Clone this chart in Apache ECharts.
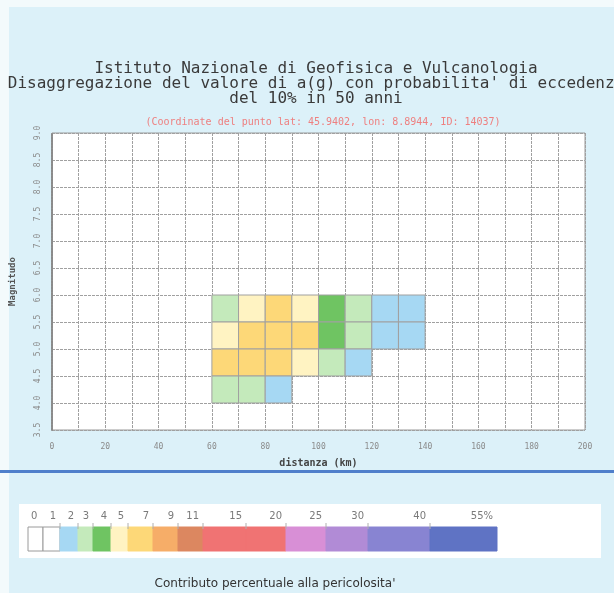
<!DOCTYPE html>
<html>
<head>
<meta charset="utf-8">
<script src="https://cdn.jsdelivr.net/npm/echarts@6/dist/echarts.min.js"></script>
<style>
  html, body { margin: 0; padding: 0; background: #f3fafc; }
  #chart { width: 614px; height: 593px; }
</style>
</head>
<body>
<div id="chart"></div>
<script>
// Disaggregation cells: lower edge of the distance bin (km), lower edge of the
// magnitude bin and percentage contribution to the hazard.
const cellDistance = [
  60, 70, 80, 90, 100, 110, 120, 130,
  60, 70, 80, 90, 100, 110, 120, 130,
  60, 70, 80, 90, 100, 110,
  60, 70, 80
];
const cellMagnitude = [
  5.5, 5.5, 5.5, 5.5, 5.5, 5.5, 5.5, 5.5,
  5.0, 5.0, 5.0, 5.0, 5.0, 5.0, 5.0, 5.0,
  4.5, 4.5, 4.5, 4.5, 4.5, 4.5,
  4.0, 4.0, 4.0
];
const cellContribution = [
  2.6, 4.6, 5.6, 4.4, 3.5, 2.4, 1.6, 1.5,
  4.3, 5.8, 6.0, 5.4, 3.6, 2.3, 1.7, 1.4,
  5.5, 5.7, 5.3, 4.2, 2.2, 1.5,
  2.3, 2.2, 1.4
];

// Contribution classes (percent) and their colours
const classBreaks = [0, 1, 2, 3, 4, 5, 7, 9, 11, 15, 20, 25, 30, 40, 55];
const classColors = [
  '#ffffff', '#a6d8f3', '#c4eabb', '#6fc462', '#fff3c2', '#fdd878', '#f6ad68',
  '#dc8760', '#f07373', '#f07373', '#d88fd6', '#b18bd6', '#8884d2', '#5f73c4'
];
const legendLabels = ['0', '1', '2', '3', '4', '5', '7', '9', '11', '15', '20', '25', '30', '40', '55%'];

const titleLines = [
  'Istituto Nazionale di Geofisica e Vulcanologia',
  "Disaggregazione del valore di a(g) con probabilita' di eccedenza",
  'del 10% in 50 anni'
];
const subtitleText = '(Coordinate del punto lat: 45.9402, lon: 8.8944, ID: 14037)';

const cells = cellDistance.map((d, i) => [d, cellMagnitude[i], cellContribution[i]]);

const pieces = classColors.map((c, i) => ({
  gte: classBreaks[i],
  lt: classBreaks[i + 1],
  color: c
}));

// colour bar layout: an extra blank box in front of the classes
const barLeft = 28, barTop = 527, barHeight = 24;
const boxWidths = [15, 17, 18, 15, 18, 17, 25, 25, 25, 43, 40, 40, 42, 62, 67];
const boxFill = ['#ffffff'].concat(classColors);
const legendGraphics = [];
legendGraphics.push({
  type: 'rect', left: 19, top: 504, z: 0,
  shape: { width: 582, height: 54 },
  style: { fill: '#ffffff' }
});
let xCursor = barLeft;
const boxEdges = [barLeft];
boxWidths.forEach((w, i) => {
  legendGraphics.push({
    type: 'rect', z: 2,
    shape: { x: xCursor, y: barTop, width: w, height: barHeight },
    style: { fill: boxFill[i], stroke: i < 2 ? '#9a9a9a' : boxFill[i], lineWidth: 1 }
  });
  xCursor += w;
  boxEdges.push(xCursor);
});
legendLabels.forEach((t, i) => {
  const x = i === 0 ? boxEdges[0] + 3 : boxEdges[i + 1] - 4;
  legendGraphics.push({
    type: 'text', z: 3,
    style: {
      x: x, y: 516, text: t,
      fill: '#7a7a7a', font: '10px "DejaVu Sans"',
      align: i === 0 ? 'left' : 'right', verticalAlign: 'middle'
    }
  });
  if (i > 0 && i < legendLabels.length - 1) {
    legendGraphics.push({
      type: 'line', z: 3,
      shape: { x1: boxEdges[i + 1], y1: barTop - 4, x2: boxEdges[i + 1], y2: barTop + 2 },
      style: { stroke: '#b0b0b0', lineWidth: 1 }
    });
  }
});

const chart = echarts.init(document.getElementById('chart'), null, { renderer: 'canvas' });

const mono = '"DejaVu Sans Mono", monospace';

chart.setOption({
  backgroundColor: 'transparent',
  animation: false,
  grid: { left: 50, top: 133, right: 29, bottom: 163, show: true, backgroundColor: '#ffffff', borderColor: '#9a9a9a', borderWidth: 1 },
  xAxis: {
    type: 'value', min: 0, max: 200, interval: 20,
    name: 'distanza (km)', nameLocation: 'middle', nameGap: 28,
    nameTextStyle: { fontFamily: mono, fontSize: 10, fontWeight: 'bold', color: '#444' },
    axisLine: { show: false },
    axisTick: { show: false },
    axisLabel: { fontFamily: mono, fontSize: 8, color: '#8a8a8a', margin: 13 },
    splitLine: { show: true, lineStyle: { color: '#a0a0a0', type: [3, 1], width: 1 } },
    minorTick: { show: false, splitNumber: 2 },
    minorSplitLine: { show: true, lineStyle: { color: '#a0a0a0', type: [3, 1], width: 1 } }
  },
  yAxis: {
    type: 'value', min: 3.5, max: 9.0, interval: 0.5,
    name: 'Magnitudo', nameLocation: 'middle', nameGap: 35, nameRotate: 90,
    nameTextStyle: { fontFamily: mono, fontSize: 9, fontWeight: 'bold', color: '#555' },
    axisLine: { show: true, lineStyle: { color: '#8a8a8a', type: [2, 1], width: 2 } },
    axisTick: { show: false },
    axisLabel: { fontFamily: mono, fontSize: 8, color: '#8a8a8a', rotate: 90, margin: 10, formatter: v => v.toFixed(1) },
    splitLine: { show: true, lineStyle: { color: '#a0a0a0', type: [3, 1], width: 1 } }
  },
  visualMap: {
    type: 'piecewise', show: false, dimension: 2, seriesIndex: 0,
    pieces: pieces
  },
  title: [
    {
      text: titleLines.join('\n'), left: 311, top: 56, textAlign: 'center',
      textStyle: { fontFamily: mono, fontSize: 16, fontWeight: 'normal', color: '#3a3a3a', lineHeight: 15, align: 'center' }
    },
    {
      text: subtitleText, left: 318, top: 112, textAlign: 'center',
      textStyle: { fontFamily: mono, fontSize: 10, fontWeight: 'normal', color: '#ee8080' }
    },
    {
      text: "Contributo percentuale alla pericolosita'", left: 270, top: 573, textAlign: 'center',
      textStyle: { fontFamily: '"DejaVu Sans", sans-serif', fontSize: 12, fontWeight: 'normal', color: '#333' }
    }
  ],
  graphic: [
    { type: 'rect', left: 9, top: 7, z: -10, silent: true, shape: { width: 605, height: 586 }, style: { fill: '#dcf1f9' } },
    { type: 'rect', left: 0, top: 470, z: 1, shape: { width: 614, height: 3 }, style: { fill: '#4f7fcb' } }
  ].concat(legendGraphics),
  series: [{
    type: 'custom',
    data: cells,
    encode: { x: 0, y: 1 },
    renderItem: function (params, api) {
      const d = api.value(0), m = api.value(1);
      const p0 = api.coord([d, m + 0.5]);
      const p1 = api.coord([d + 10, m]);
      return {
        type: 'rect',
        shape: { x: p0[0], y: p0[1], width: p1[0] - p0[0], height: p1[1] - p0[1] },
        style: { fill: api.visual('color'), stroke: '#a0a0a0', lineWidth: 1 }
      };
    }
  }]
});
</script>
</body>
</html>
